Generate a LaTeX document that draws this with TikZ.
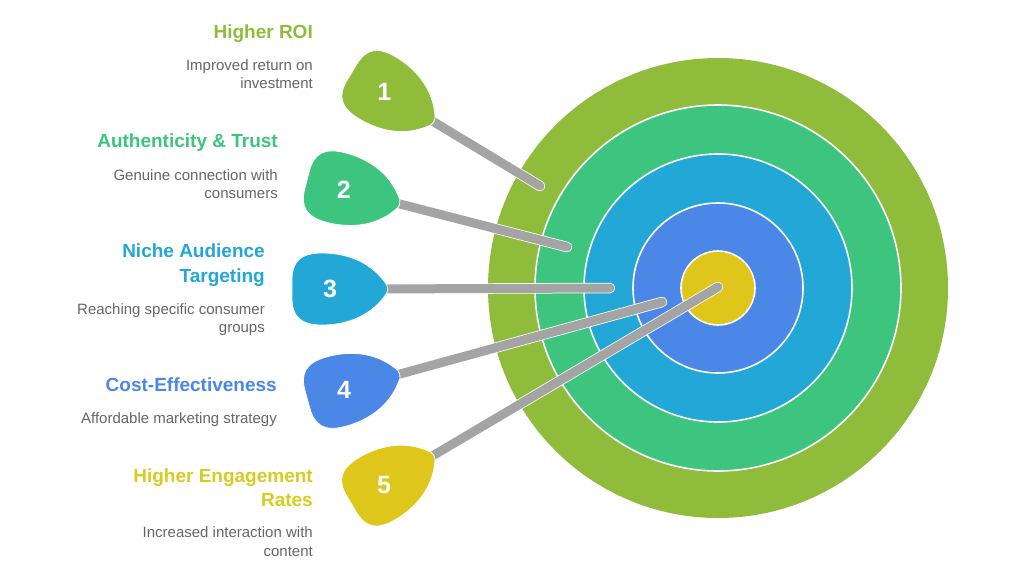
\documentclass[tikz,border=0pt]{standalone}
\usepackage{fontspec}
\setmainfont{Liberation Sans}
\definecolor{cgreen}{HTML}{8FBC3B}
\definecolor{cteal}{HTML}{3DC47E}
\definecolor{cblue}{HTML}{22A7D6}
\definecolor{croyal}{HTML}{4B87E6}
\definecolor{cyellow}{HTML}{DFC61A}
\definecolor{ctyellow}{HTML}{D9CB20}
\definecolor{cshaft}{HTML}{A4A4A4}
\definecolor{cdesc}{HTML}{666666}
\tikzset{
  ring/.style={draw=white, line width=1.6pt},
  numstyle/.style={text=white, font=\fontsize{25}{25}\selectfont\bfseries, inner sep=0pt},
  titlestyle/.style={anchor=base east, inner sep=0pt, font=\fontsize{19}{23}\selectfont\bfseries},
  descstyle/.style={anchor=base east, inner sep=0pt, text=cdesc, font=\fontsize{15}{18}\selectfont},
  shaftout/.style={draw=white, line width=10.5pt, line cap=round},
  shaftin/.style={draw=cshaft, line width=9pt, line cap=round},
  tagshape/.style={draw=white, line width=0.8pt}
}
\newcommand{\dart}[7]{%
  % #1 name, #2 colour, #3 tip x, #4 tip y, #5 canvas angle, #6 number, #7 end coordinate
  \begin{scope}[shift={(#3,#4)}, rotate=#5]
    \coordinate (#1tip) at (-14,0);
  \end{scope}
  \draw[shaftout] (#1tip) -- (#7);
  \draw[shaftin] (#1tip) -- (#7);
  \begin{scope}[shift={(#3,#4)}, rotate=#5]
    \fill[#2, tagshape] (-4,-8) .. controls (1,-3) and (1,3) .. (-4,8)
      .. controls (-20,29) and (-44,36) .. (-66,36)
      .. controls (-88,36) and (-96,27) .. (-96,9)
      -- (-96,-9)
      .. controls (-96,-27) and (-88,-36) .. (-66,-36)
      .. controls (-44,-36) and (-20,-29) .. (-4,-8) -- cycle;
    \node[numstyle] (#1) at (-58,0) {#6};
  \end{scope}
}
\begin{document}
\begin{tikzpicture}[x=1pt,y=-1pt]
\useasboundingbox (0,0) rectangle (1024,576);
\fill[white] (0,0) rectangle (1024,576);
% target
\coordinate (c) at (718,288);
\fill[cgreen] (c) circle (230);
\filldraw[cteal, ring] (c) circle (183);
\filldraw[cblue, ring] (c) circle (134);
\filldraw[croyal, ring] (c) circle (85);
\filldraw[cyellow, ring] (c) circle (37);
% shaft end points
\coordinate (e1) at (540,186);
\coordinate (e2) at (567,247);
\coordinate (e3) at (610,288);
\coordinate (e4) at (662,302);
\coordinate (e5) at (718,287);
% darts
\dart{d1}{cgreen}{434}{122}{-31.1}{1}{e1}
\dart{d2}{cteal}{400}{204}{-14.4}{2}{e2}
\dart{d3}{cblue}{388}{289}{0}{3}{e3}
\dart{d4}{croyal}{400}{374}{15.4}{4}{e4}
\dart{d5}{cyellow}{434}{455}{30.6}{5}{e5}
% texts
\node[titlestyle, text=cgreen] (t1) at (313,38.3) {Higher ROI};
\node[descstyle] (s1a) at (313,70) {Improved return on};
\node[descstyle] (s1b) at (313,88) {investment};
\node[titlestyle, text=cteal] (t2) at (278,147.7) {Authenticity \& Trust};
\node[descstyle] (s2a) at (278,180) {Genuine connection with};
\node[descstyle] (s2b) at (278,198) {consumers};
\node[titlestyle, text=cblue] (t3a) at (265,257.7) {Niche Audience};
\node[titlestyle, text=cblue] (t3b) at (265,282.3) {Targeting};
\node[descstyle] (s3a) at (265,314.3) {Reaching specific consumer};
\node[descstyle] (s3b) at (265,332) {groups};
\node[titlestyle, text=croyal] (t4) at (277,391) {Cost-Effectiveness};
\node[descstyle] (s4a) at (277,423.3) {Affordable marketing strategy};
\node[titlestyle, text=ctyellow] (t5a) at (313,482.5) {Higher Engagement};
\node[titlestyle, text=ctyellow] (t5b) at (313,506.5) {Rates};
\node[descstyle] (s5a) at (313,537.7) {Increased interaction with};
\node[descstyle] (s5b) at (313,556) {content};
\end{tikzpicture}
\end{document}
